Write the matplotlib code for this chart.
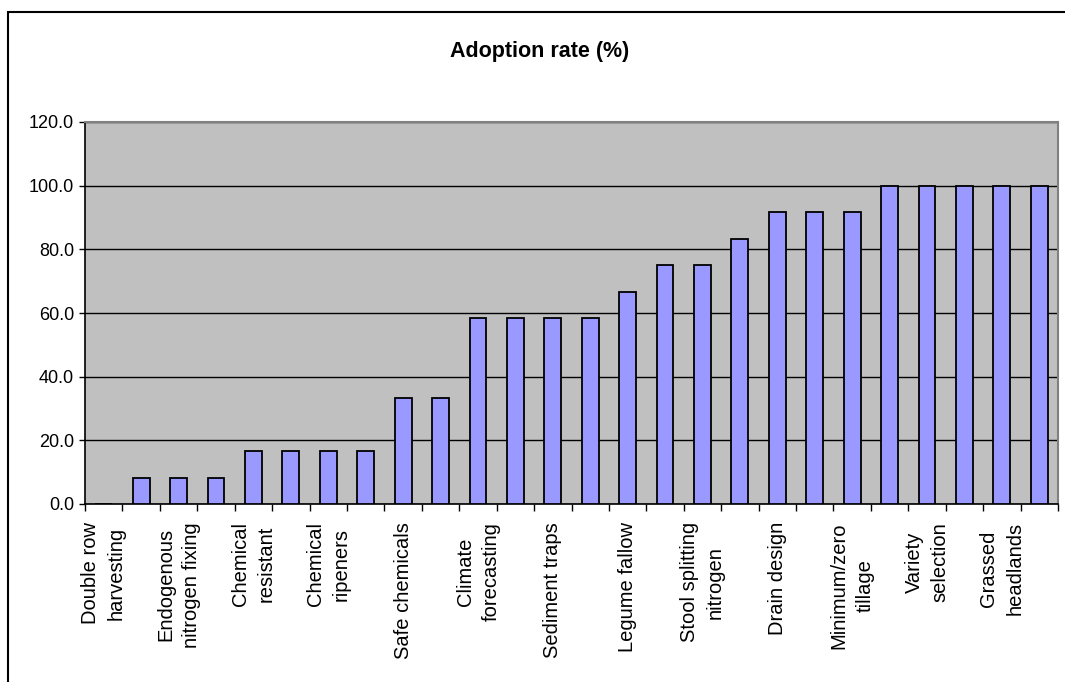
import numpy as np
import matplotlib
matplotlib.use("Agg")
import matplotlib.pyplot as plt
from matplotlib.patches import Rectangle

# data (26 categories, labels on every other one)
categories = [
    "Double row\nharvesting", "",
    "Endogenous\nnitrogen fixing", "",
    "Chemical\nresistant", "",
    "Chemical\nripeners", "",
    "Safe chemicals", "",
    "Climate\nforecasting", "",
    "Sediment traps", "",
    "Legume fallow", "",
    "Stool splitting\nnitrogen", "",
    "Drain design", "",
    "Minimum/zero\ntillage", "",
    "Variety\nselection", "",
    "Grassed\nheadlands", "",
]
adoption = [0.0, 8.3, 8.3, 8.3, 16.7, 16.7, 16.7, 16.7, 33.3, 33.3,
            58.3, 58.3, 58.3, 58.3, 66.7, 75.0, 75.0, 83.3, 91.7, 91.7,
            91.7, 100.0, 100.0, 100.0, 100.0, 100.0]
y_ticks = [0, 20, 40, 60, 80, 100, 120]

plt.rcParams['font.family'] = ['Liberation Sans', 'DejaVu Sans']

fig = plt.figure(figsize=(10.65, 6.82), dpi=100)
ax = fig.add_axes([85 / 1065, 1 - 504 / 682, (1058 - 85) / 1065, (504 - 122) / 682])

# outer chart frame (left and top edges visible)
fig.patches.append(Rectangle((8 / 1065, -0.1), 1.2, 1 - 12 / 682 + 0.1,
                             transform=fig.transFigure, fill=False,
                             edgecolor='black', linewidth=1.5))

x = np.arange(len(adoption))
ax.set_facecolor('#C0C0C0')
ax.bar(x, adoption, width=0.45, color='#9999FF', edgecolor='black', linewidth=1.3, zorder=3)

ax.set_xlim(-0.5, len(adoption) - 0.5)
ax.set_ylim(0, 120)
ax.set_yticks(y_ticks)
ax.set_yticklabels([f"{v:.1f}" for v in y_ticks], fontsize=13)
ax.yaxis.grid(True, color='black', linewidth=1.0, zorder=1)
ax.set_axisbelow(True)

# ticks at category boundaries, labels at category centres
ax.set_xticks(np.arange(len(adoption) + 1) - 0.5)
ax.set_xticklabels([])
ax.set_xticks(x, minor=True)
ax.set_xticklabels(categories, minor=True, rotation=90, fontsize=14.5,
                   va='top', ha='center', multialignment='center', linespacing=1.45)
ax.tick_params(axis='x', which='major', direction='out', length=5, width=1)
ax.tick_params(axis='x', which='minor', length=0, pad=13)
ax.tick_params(axis='y', direction='out', length=4, width=1, pad=4)

for side in ['left', 'bottom']:
    ax.spines[side].set_color('black')
    ax.spines[side].set_linewidth(1.2)
for side in ['top', 'right']:
    ax.spines[side].set_color('#808080')
    ax.spines[side].set_linewidth(1.5)

fig.text(540 / 1065, 1 - 52 / 682, "Adoption rate (%)", ha='center', va='center',
         fontsize=15.5, fontweight='bold')

fig.savefig("out.png", dpi=100)
